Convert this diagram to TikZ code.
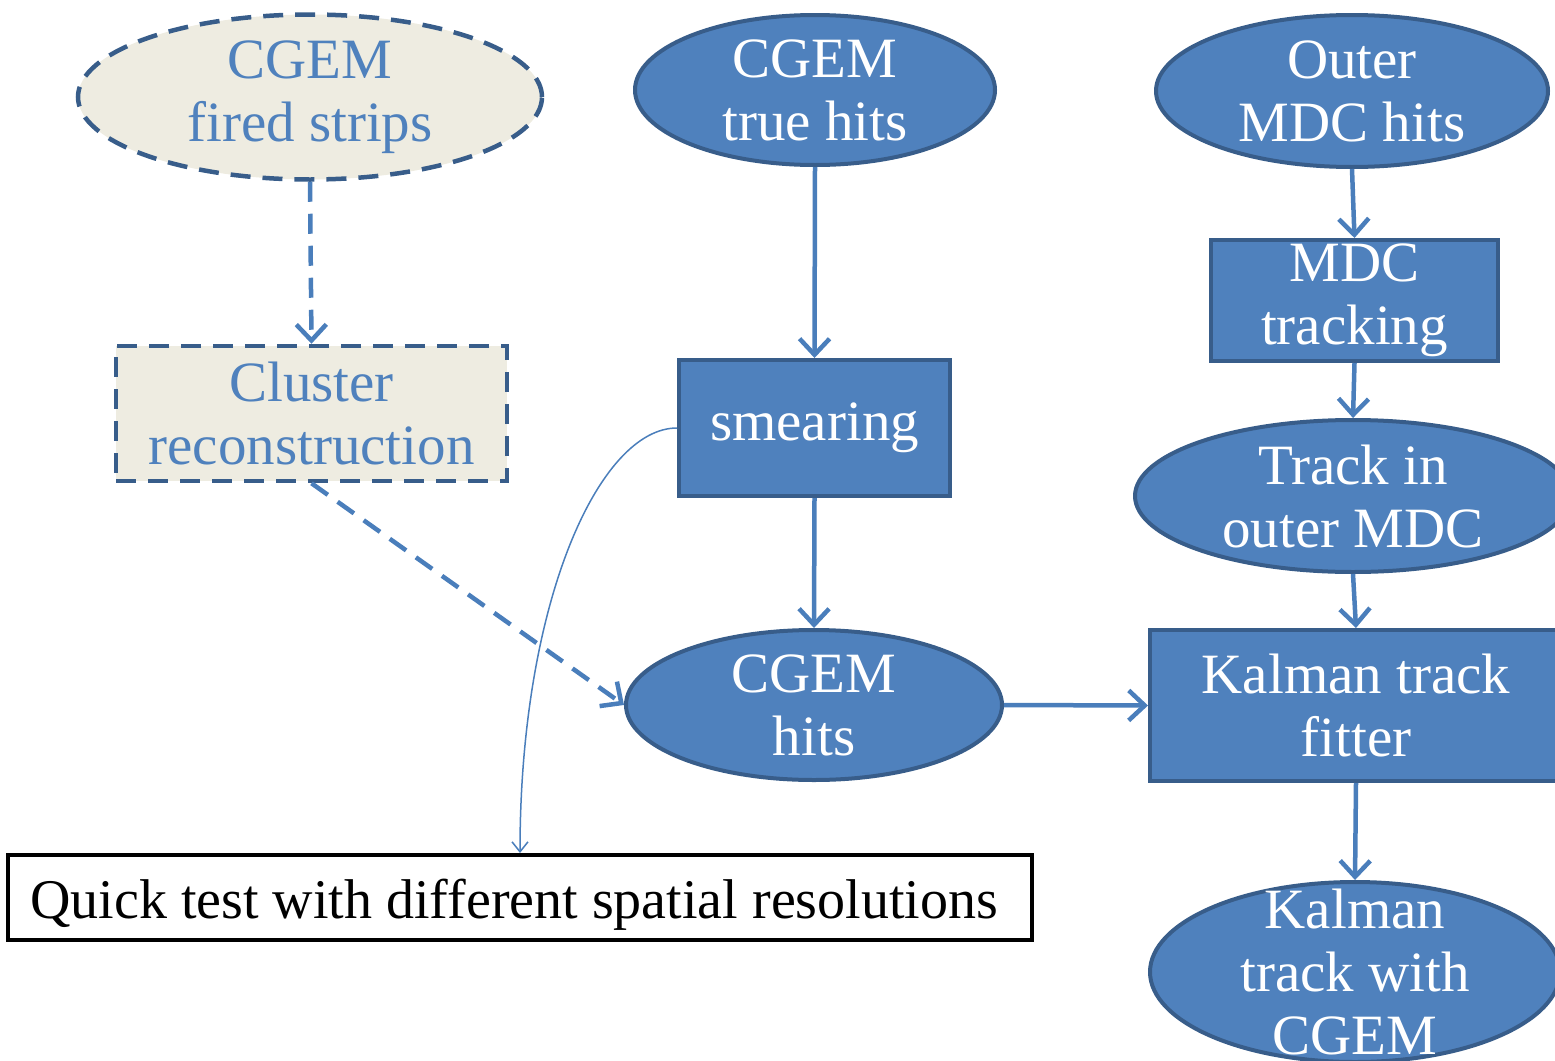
\documentclass[tikz,border=0pt]{standalone}
\usepackage{fontspec}
\setmainfont{Liberation Serif}
\usetikzlibrary{shapes.geometric,arrows.meta}
\definecolor{bfill}{HTML}{4F81BD}
\definecolor{bdraw}{HTML}{385D8A}
\definecolor{conn}{HTML}{4A7EBB}
\definecolor{beige}{HTML}{EEECE1}
\tikzset{
  txt/.style={font=\fontsize{57}{63}\selectfont, align=center, text=white, inner sep=0pt},
  btxt/.style={txt, text=bfill},
  ell/.style={ellipse, draw=bdraw, fill=bfill, line width=4pt, inner sep=0pt},
  rbox/.style={rectangle, draw=bdraw, fill=bfill, line width=4pt, inner sep=0pt},
  dell/.style={ellipse, draw=bdraw, fill=beige, line width=4.5pt, inner sep=0pt, dash pattern=on 20pt off 12pt},
  dbox/.style={rectangle, draw=bdraw, fill=beige, line width=4.5pt, inner sep=0pt, dash pattern=on 20pt off 12pt},
  arr/.style={draw=conn, line width=4.5pt, -{Straight Barb[length=16pt,width=30pt,line width=4.5pt]}},
  darr/.style={arr, dash pattern=on 20pt off 12pt},
}
\begin{document}
\begin{tikzpicture}[x=1pt,y=-1pt]
\useasboundingbox (0,0) rectangle (1555,1060);
\clip (0,0) rectangle (1555,1060);
% nodes
\node[dell, minimum width=464, minimum height=165, label={[btxt]center:{CGEM\\fired strips}}] (fs) at (310,97) {};
\node[dbox, minimum width=391, minimum height=135, label={[btxt]center:{Cluster\\reconstruction}}] (cr) at (311.5,413.5) {};
\node[ell, minimum width=360, minimum height=150, label={[txt]center:{CGEM\\true hits}}] (th) at (815,90) {};
\node[rbox, minimum width=271, minimum height=136, label={[txt]center:{smearing}}] (sm) at (814.5,428) {};
\node[ell, minimum width=376, minimum height=150, label={[txt]center:{CGEM\\hits}}] (ch) at (814,705) {};
\node[ell, minimum width=392, minimum height=152, label={[txt]center:{Outer\\MDC hits}}] (om) at (1352,91) {};
\node[rbox, minimum width=287, minimum height=121, label={[txt]center:{MDC\\tracking}}] (mt) at (1354.5,300.5) {};
\node[ell, minimum width=436, minimum height=152, label={[txt]center:{Track in\\outer MDC}}] (to) at (1353,496) {};
\node[rbox, minimum width=412, minimum height=151, label={[txt]center:{Kalman track\\fitter}}] (kf) at (1356,705.5) {};
\node[ell, minimum width=410, minimum height=180, label={[txt]center:{Kalman\\track with\\CGEM}}] (kc) at (1355,972) {};
\node[rectangle, draw=black, fill=white, line width=4pt, minimum width=1024, minimum height=85, inner sep=0pt] (qt) at (520,897.5) {};
\node[font=\fontsize{56}{63}\selectfont, anchor=base west, inner sep=0pt] (qtt) at (30,918) {Quick test with different spatial resolutions};
% connectors
\draw[darr] (fs.south) -- (cr.north);
\draw[darr] (cr.south) -- (ch.west);
\draw[arr] (th.south) -- (sm.north);
\draw[arr] (sm.south) -- (ch.north);
\draw[arr] (om.south) -- (mt.north);
\draw[arr] (mt.south) -- (to.north);
\draw[arr] (to.south) -- (kf.north);
\draw[arr] (ch.east) -- (kf.west);
\draw[arr] (kf.south) -- (kc.north);
\draw[draw=conn, line width=1.5pt, -{Straight Barb[length=10pt,width=16pt,line width=1.5pt]}]
  (sm.west) .. controls (600,428) and (520,600) .. (qt.north -| 520,0);
\end{tikzpicture}
\end{document}
